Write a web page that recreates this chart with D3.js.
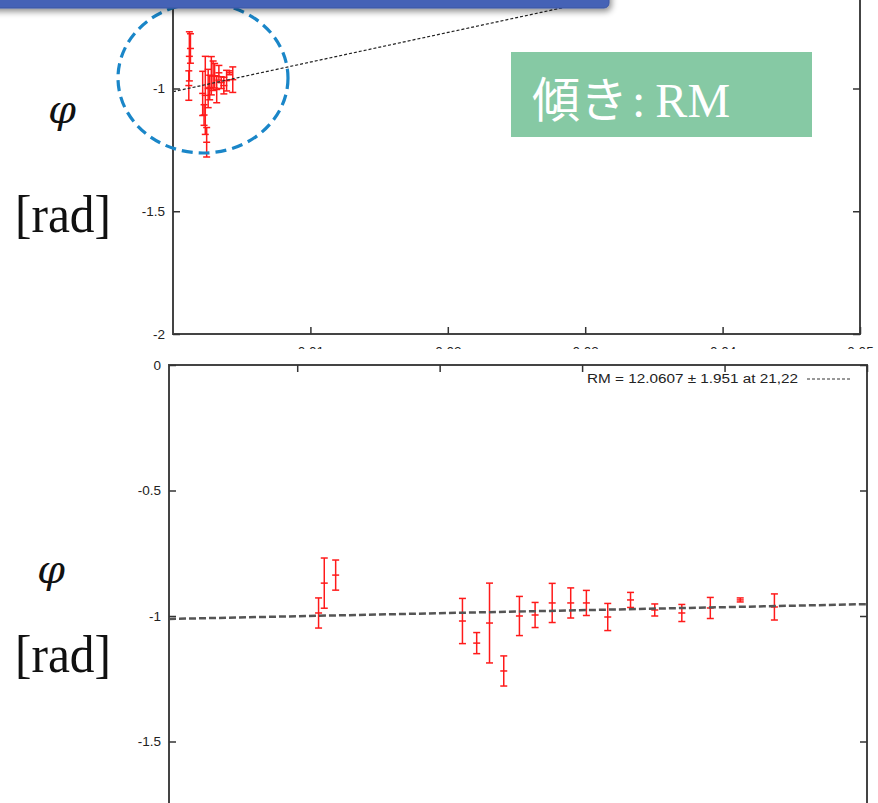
<!DOCTYPE html>
<html><head><meta charset="utf-8">
<script src="https://cdn.jsdelivr.net/npm/d3@7"></script>
<style>html,body{margin:0;padding:0;background:#fff;} svg{display:block;}</style>
</head><body>
<svg id="c" width="878" height="803"></svg>
<script>
// ---- data ----
const lambda2 = [0.00115,0.00119,0.00127,0.00216,0.00226,0.00235,0.00245,0.00256,0.00267,0.00279,0.00292,0.00303,0.00318,0.00334,0.00351,0.00370,0.00390,0.00411,0.00435];
const phi     = [-0.988,-0.869,-0.837,-1.020,-1.108,-1.028,-1.219,-1.000,-0.996,-0.948,-0.948,-0.948,-1.004,-0.936,-0.976,-0.988,-0.968,-0.936,-0.964];
const phiErr  = [0.060,0.100,0.060,0.090,0.042,0.159,0.060,0.078,0.050,0.078,0.060,0.050,0.054,0.030,0.024,0.034,0.042,0.008,0.052];
const fitRM = 12.0607, fitRMErr = 1.951, fitIntercept = -1.013;
const topXTicks = [0.01,0.02,0.03,0.04,0.05];
const topYTicks = [-2,-1.5,-1];
const botXTicks = [0.001,0.002,0.003,0.004,0.005];
const botYTicks = [0,-0.5,-1,-1.5];
const legendText = `RM = ${fitRM} ± ${fitRMErr} at 21,22`;
const boxText = ["傾き", ":", "RM"];
const yLabel = ["φ", "[rad]"];

const points = lambda2.map((x,i)=>({x, y:phi[i], e:phiErr[i]}));
const svg = d3.select("#c");
svg.append("rect").attr("width",878).attr("height",803).attr("fill","#fff");

const defs = svg.append("defs");
const f = defs.append("filter").attr("id","sh").attr("x","-10%").attr("y","-50%").attr("width","130%").attr("height","250%");
f.append("feDropShadow").attr("dx",2).attr("dy",3).attr("stdDeviation",3).attr("flood-color","#000").attr("flood-opacity",0.45);

const tickFont = "'Liberation Sans', Arial, sans-serif";

function styleAxis(g){
  g.select(".domain").remove();
  g.selectAll(".tick line").attr("stroke","#333").attr("stroke-width",1.5);
  g.selectAll(".tick text").attr("fill","#222").style("font-family",tickFont).style("font-size","13.5px");
}

function drawChart(g, x, y, opt){
  const [x0,x1] = x.domain(), [y0,y1] = y.domain();
  const cap = 3.5;
  const pts = g.append("g").attr("stroke","#ff1a1a").attr("stroke-width",1.5).attr("fill","none");
  const p = pts.selectAll("g").data(points).join("g");
  p.append("line").attr("x1",d=>x(d.x)).attr("x2",d=>x(d.x)).attr("y1",d=>y(d.y-d.e)).attr("y2",d=>y(d.y+d.e));
  p.append("line").attr("x1",d=>x(d.x)-cap).attr("x2",d=>x(d.x)+cap).attr("y1",d=>y(d.y-d.e)).attr("y2",d=>y(d.y-d.e));
  p.append("line").attr("x1",d=>x(d.x)-cap).attr("x2",d=>x(d.x)+cap).attr("y1",d=>y(d.y+d.e)).attr("y2",d=>y(d.y+d.e));
  p.append("line").attr("x1",d=>x(d.x)-cap).attr("x2",d=>x(d.x)+cap).attr("y1",d=>y(d.y)).attr("y2",d=>y(d.y));
  const fx = [x0,x1];
  g.append("path").attr("d", d3.line().x(d=>x(d)).y(d=>y(fitIntercept+fitRM*d))(fx))
    .attr("fill","none").attr("stroke",opt.lineColor).attr("stroke-width",opt.lineWidth).attr("stroke-dasharray",opt.dash);
  g.append("rect").attr("x",x(x0)).attr("y",y(y1)).attr("width",x(x1)-x(x0)).attr("height",y(y0)-y(y1))
    .attr("fill","none").attr("stroke","#444").attr("stroke-width",2);
}

// ---------------- top chart ----------------
const xT = d3.scaleLinear().domain([0,0.05]).range([173,860]);
const yT = d3.scaleLinear().domain([-2,0]).range([334,-157]);
const gT = svg.append("g");
drawChart(gT, xT, yT, {lineColor:"#222", lineWidth:1.2, dash:"3,2"});
gT.append("g").attr("transform",`translate(${xT(0)},0)`)
  .call(d3.axisLeft(yT).tickValues(topYTicks).tickSizeInner(-7).tickSizeOuter(0).tickPadding(8).tickFormat(d=>String(d))).call(styleAxis);
gT.append("g").attr("transform",`translate(${xT(0.05)},0)`)
  .call(d3.axisRight(yT).tickValues(topYTicks).tickSizeInner(-7).tickSizeOuter(0).tickFormat("")).call(styleAxis);
gT.append("g").attr("transform",`translate(0,${yT(-2)})`)
  .call(d3.axisBottom(xT).tickValues(topXTicks).tickSizeInner(-7).tickSizeOuter(0).tickPadding(12).tickFormat(d=>String(d))).call(styleAxis);

// highlight circle
svg.append("ellipse").attr("cx",203).attr("cy",78).attr("rx",85).attr("ry",75)
  .attr("fill","none").attr("stroke","#1a86c8").attr("stroke-width",3.2).attr("stroke-dasharray","11,6");

// banner
svg.append("rect").attr("x",-20).attr("y",-30).attr("width",629).attr("height",38).attr("rx",5)
  .attr("fill","#4562b6").attr("stroke","#3a55a3").attr("stroke-width",1).attr("filter","url(#sh)");

// green box
svg.append("rect").attr("x",511).attr("y",52).attr("width",301).attr("height",85).attr("fill","#86c9a4");
const bt = svg.append("text").attr("x",532).attr("y",117).attr("fill","#fff").style("font-size","48px");
bt.append("tspan").text(boxText[0]).style("font-family","'Noto Sans CJK JP', sans-serif");
bt.append("tspan").attr("dx",4).text(boxText[1]).style("font-family","'Liberation Serif', serif");
bt.append("tspan").attr("dx",10).text(boxText[2]).style("font-family","'Liberation Serif', serif");

// ---------------- bottom chart ----------------
svg.append("rect").attr("x",118).attr("y",349).attr("width",760).attr("height",454).attr("fill","#fff");
const xB = d3.scaleLinear().domain([0.0001,0.005]).range([169,867]);
const yB = d3.scaleLinear().domain([-2,0]).range([867,365]);
const gB = svg.append("g");
drawChart(gB, xB, yB, {lineColor:"#555", lineWidth:2.5, dash:"7,3"});
gB.append("g").attr("transform",`translate(${xB(0.0001)},0)`)
  .call(d3.axisLeft(yB).tickValues(botYTicks).tickSizeInner(-7).tickSizeOuter(0).tickPadding(8).tickFormat(d=>String(d))).call(styleAxis);
gB.append("g").attr("transform",`translate(${xB(0.005)},0)`)
  .call(d3.axisRight(yB).tickValues(botYTicks).tickSizeInner(-7).tickSizeOuter(0).tickFormat("")).call(styleAxis);
gB.append("g").attr("transform",`translate(0,${yB(0)})`)
  .call(d3.axisTop(xB).tickValues(botXTicks).tickSizeInner(-7).tickSizeOuter(0).tickFormat("")).call(styleAxis);
// legend
svg.append("text").attr("x",587).attr("y",383).attr("fill","#222").attr("textLength",211).attr("lengthAdjust","spacingAndGlyphs")
  .style("font-family",tickFont).style("font-size","12.5px").text(legendText);
svg.append("line").attr("x1",807).attr("x2",850).attr("y1",379).attr("y2",379)
  .attr("stroke","#333").attr("stroke-width",1).attr("stroke-dasharray","3,2");

// y labels
[[48,123,15,232],[37,583,15,672]].forEach(([px,py,rx,ry])=>{
  svg.append("text").attr("x",px).attr("y",py).attr("fill","#111").style("font-family","'DejaVu Serif', serif")
    .style("font-style","italic").style("font-size","40px").text(yLabel[0]);
  svg.append("text").attr("x",rx).attr("y",ry).attr("fill","#111").style("font-family","'Liberation Serif', serif")
    .style("font-size","52px").attr("textLength",96).attr("lengthAdjust","spacingAndGlyphs").text(yLabel[1]);
});
</script>
</body></html>
